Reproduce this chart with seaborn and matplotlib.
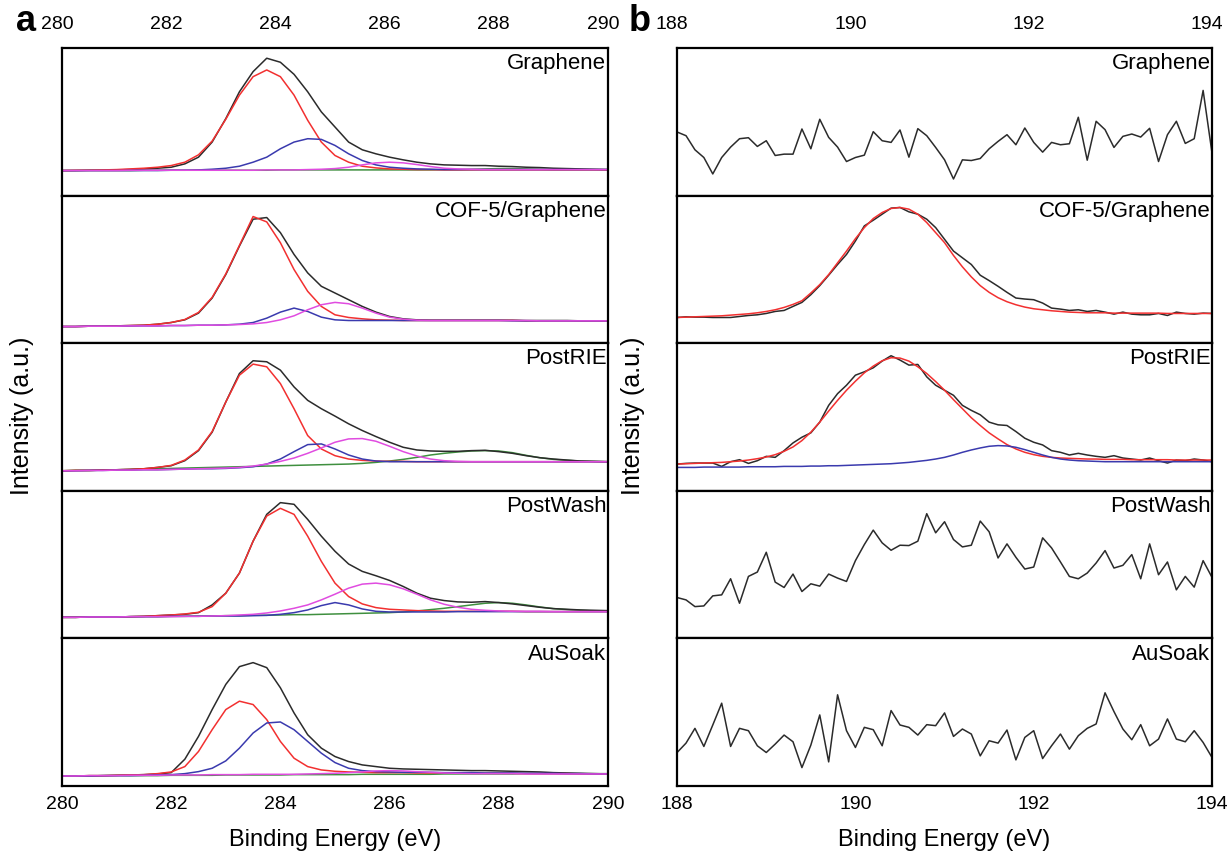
import numpy as np
import pandas as pd
import matplotlib
matplotlib.use("Agg")
import matplotlib.pyplot as plt
import matplotlib.transforms as mtransforms
import seaborn as sns

samples = ["Graphene", "COF-5/Graphene", "PostRIE", "PostWash", "AuSoak"]

# binding energy grids (eV)
c1s_ev = np.linspace(280, 290, 41)   # 0.25 eV steps
b1s_ev = np.linspace(188, 194, 61)   # 0.1 eV steps

# ---------------- panel a : C 1s (raw + fitted components) ----------------
gr_raw = [75, 75, 76, 76, 77, 78, 80, 82, 85, 95, 115, 160, 230, 310, 370, 410, 398, 362, 310, 250,
          205, 160, 137, 125, 115, 107, 100, 95, 92, 91, 90, 90, 88, 87, 85, 84, 82, 81, 80, 79, 78]
gr_red = [75, 76, 76, 77, 78, 80, 82, 85, 90, 100, 122, 163, 228, 300, 355, 375, 355, 300, 225, 160,
          120, 100, 88, 83, 80, 79, 78, 78, 77, 77, 77, 77, 77, 77, 77, 77, 77, 77, 77, 77, 77]
gr_blue = [75, 75, 75, 75, 75, 75, 75, 75, 76, 76, 77, 79, 82, 88, 100, 115, 140, 160, 170, 168,
           150, 125, 105, 92, 85, 82, 80, 79, 78, 78, 78, 78, 78, 78, 78, 78, 78, 78, 78, 78, 78]
gr_mag = [75, 75, 75, 75, 75, 76, 76, 76, 76, 76, 76, 76, 76, 76, 76, 77, 77, 77, 78, 79,
          81, 85, 92, 98, 100, 98, 93, 87, 82, 80, 79, 78, 78, 78, 78, 78, 78, 78, 78, 78, 78]
gr_green = [75, 75, 75, 75, 75, 75, 76, 76, 76, 76, 76, 76, 76, 76, 76, 76, 77, 77, 77, 77,
            77, 77, 77, 77, 77, 77, 77, 77, 78, 78, 79, 80, 81, 81, 80, 79, 78, 78, 78, 78, 78]

cof_raw = [50, 50, 51, 51, 52, 53, 54, 57, 62, 70, 90, 135, 205, 290, 370, 375, 330, 265, 210, 170,
           150, 130, 110, 93, 80, 73, 70, 69, 69, 69, 69, 69, 69, 69, 68, 68, 68, 68, 67, 67, 67]
cof_red = [50, 50, 51, 51, 52, 53, 54, 57, 62, 71, 92, 137, 207, 292, 378, 362, 300, 220, 155, 110,
           85, 77, 73, 70, 69, 68, 68, 68, 68, 68, 68, 68, 68, 68, 67, 67, 67, 67, 67, 67, 67]
cof_blue = [50, 50, 51, 51, 51, 52, 52, 52, 53, 53, 54, 54, 55, 57, 62, 75, 93, 105, 95, 78,
            70, 68, 68, 68, 68, 68, 68, 68, 68, 68, 68, 68, 68, 67, 67, 67, 67, 67, 67, 67, 67]
cof_mag = [50, 50, 51, 51, 51, 52, 52, 52, 53, 53, 54, 54, 55, 56, 58, 62, 70, 82, 100, 115,
           122, 118, 105, 90, 78, 72, 69, 68, 68, 68, 68, 68, 68, 68, 68, 67, 67, 67, 67, 67, 67]

rie_raw = [60, 61, 61, 62, 63, 64, 66, 70, 75, 90, 120, 175, 265, 350, 388, 385, 360, 310, 270, 245,
           223, 200, 180, 162, 145, 130, 122, 119, 118, 118, 120, 121, 117, 112, 105, 99, 95, 92, 89, 88, 87]
rie_red = [60, 61, 61, 62, 63, 64, 66, 70, 76, 92, 122, 177, 265, 345, 378, 370, 320, 245, 165, 125,
           105, 95, 91, 89, 88, 88, 87, 87, 87, 87, 87, 87, 87, 87, 87, 87, 87, 87, 87, 87, 87]
rie_blue = [60, 60, 61, 61, 62, 62, 63, 63, 64, 65, 66, 66, 67, 69, 72, 80, 95, 117, 138, 140,
            125, 107, 95, 89, 87, 87, 87, 87, 87, 87, 87, 87, 87, 87, 87, 87, 87, 87, 87, 87, 87]
rie_mag = [60, 60, 61, 61, 62, 62, 63, 63, 64, 65, 66, 67, 68, 70, 74, 80, 88, 98, 112, 128,
           145, 155, 156, 148, 133, 117, 104, 95, 90, 88, 87, 87, 87, 87, 87, 87, 87, 87, 87, 87, 87]
rie_green = [60, 61, 61, 62, 63, 64, 65, 66, 67, 68, 69, 70, 71, 72, 73, 74, 75, 76, 77, 78,
             79, 80, 82, 85, 89, 94, 100, 107, 112, 116, 119, 120, 119, 114, 106, 99, 94, 91, 89, 88, 87]

wash_raw = [63, 63, 64, 64, 64, 65, 66, 68, 70, 72, 77, 100, 135, 195, 290, 370, 405, 400, 355, 305,
            260, 222, 200, 187, 173, 155, 135, 120, 113, 109, 108, 110, 107, 103, 98, 93, 89, 87, 85, 84, 83]
wash_red = [63, 63, 64, 64, 64, 65, 66, 68, 70, 73, 78, 95, 135, 195, 290, 365, 388, 370, 305, 230,
            165, 125, 103, 92, 87, 85, 83, 82, 81, 81, 81, 81, 81, 81, 80, 80, 80, 80, 80, 80, 80]
wash_blue = [63, 63, 64, 64, 64, 65, 65, 65, 66, 66, 66, 67, 67, 67, 68, 69, 72, 77, 85, 98,
             107, 100, 88, 81, 79, 79, 79, 79, 79, 80, 80, 80, 80, 80, 80, 80, 80, 80, 80, 80, 80]
wash_mag = [63, 63, 64, 64, 64, 65, 65, 65, 65, 66, 66, 67, 68, 70, 72, 76, 82, 90, 100, 115,
            132, 150, 162, 165, 160, 148, 132, 115, 102, 93, 87, 84, 82, 81, 81, 81, 80, 80, 80, 80, 80]
wash_green = [63, 63, 64, 64, 64, 65, 65, 65, 66, 66, 67, 67, 68, 68, 69, 69, 70, 71, 71, 72,
              73, 74, 75, 76, 77, 79, 82, 86, 90, 95, 100, 105, 107, 105, 100, 94, 89, 86, 84, 82, 81]

au_raw = [30, 30, 31, 31, 32, 33, 34, 36, 40, 80, 148, 228, 303, 356, 368, 353, 293, 218, 153, 113,
          88, 73, 63, 58, 53, 51, 50, 49, 48, 47, 46, 46, 45, 44, 43, 42, 40, 39, 38, 37, 36]
au_red = [30, 30, 31, 31, 32, 33, 34, 37, 42, 58, 103, 168, 228, 253, 243, 198, 133, 83, 58, 48,
          44, 42, 41, 40, 40, 40, 39, 39, 39, 39, 38, 38, 38, 38, 37, 37, 37, 37, 36, 36, 36]
au_blue = [30, 30, 30, 31, 31, 31, 32, 33, 34, 37, 43, 53, 75, 113, 158, 188, 191, 168, 133, 98,
           70, 53, 46, 43, 42, 41, 41, 41, 40, 40, 40, 39, 39, 39, 38, 38, 38, 37, 37, 36, 36]
au_mag = [30, 30, 31, 31, 31, 32, 32, 32, 33, 33, 33, 34, 34, 34, 35, 35, 35, 35, 36, 37,
          38, 40, 42, 45, 46, 45, 43, 41, 39, 38, 37, 37, 37, 37, 36, 36, 36, 36, 36, 36, 36]
au_green = [30, 30, 30, 31, 31, 31, 31, 31, 32, 32, 32, 32, 33, 33, 33, 33, 33, 34, 34, 34,
            34, 34, 35, 35, 35, 35, 35, 35, 36, 36, 36, 36, 36, 36, 37, 37, 37, 37, 37, 37, 37]

# ---------------- panel b : B 1s ----------------
gr_b = [190, 179, 137, 114, 65, 114, 145, 170, 173, 147, 164, 120, 124, 124, 199, 140, 228, 174, 145, 102,
        114, 121, 191, 164, 159, 196, 115, 200, 179, 144, 107, 50, 107, 105, 111, 140, 162, 182, 152, 202,
        159, 130, 159, 152, 155, 234, 106, 222, 197, 144, 177, 184, 175, 201, 102, 182, 222, 156, 170, 314, 127]
cof_b = [77, 79, 78, 78, 77, 77, 77, 80, 83, 85, 89, 95, 98, 110, 122, 145, 172, 203, 235, 265,
         305, 350, 367, 385, 403, 405, 392, 385, 370, 345, 310, 275, 255, 235, 203, 187, 170, 152, 135, 132,
         130, 120, 105, 102, 98, 100, 95, 98, 93, 87, 93, 87, 85, 85, 89, 83, 93, 89, 87, 90, 89]
cof_b_fit = [77, 78, 79, 80, 81, 82, 84, 86, 88, 91, 95, 100, 107, 116, 127, 150, 175, 205, 240, 275,
             312, 345, 372, 390, 402, 405, 400, 385, 360, 330, 300, 262, 228, 198, 172, 152, 136, 124, 115, 108,
             103, 100, 97, 95, 93, 92, 91, 91, 91, 90, 90, 90, 90, 90, 90, 89, 89, 89, 89, 89, 89]
rie_b = [80, 82, 83, 83, 83, 73, 87, 93, 82, 90, 103, 100, 120, 143, 160, 173, 205, 255, 290, 315,
         345, 355, 367, 387, 403, 390, 375, 377, 340, 315, 300, 285, 255, 240, 227, 205, 197, 195, 177, 157,
         145, 137, 120, 115, 107, 112, 107, 103, 100, 105, 98, 95, 92, 98, 90, 83, 92, 90, 95, 92, 87]
rie_b_fit1 = [80, 81, 82, 83, 84, 85, 87, 89, 92, 96, 101, 108, 118, 131, 150, 175, 205, 238, 270, 300,
              327, 352, 372, 388, 397, 396, 387, 370, 350, 326, 300, 272, 245, 218, 195, 173, 155, 138, 125, 115,
              108, 103, 100, 98, 97, 96, 95, 95, 94, 94, 94, 93, 93, 93, 93, 93, 92, 92, 92, 92, 92]
rie_b_fit2 = [70, 70, 70, 71, 71, 71, 71, 71, 72, 72, 72, 72, 73, 73, 73, 74, 74, 75, 75, 76,
              77, 78, 79, 80, 81, 83, 85, 88, 91, 95, 100, 107, 115, 122, 128, 133, 135, 134, 130, 123,
              115, 107, 100, 95, 92, 90, 89, 88, 87, 87, 87, 87, 87, 87, 87, 87, 87, 87, 87, 87, 87]
wash_b = [122, 115, 95, 97, 127, 130, 178, 105, 185, 198, 257, 168, 152, 192, 140, 163, 156, 192, 180, 170,
          232, 280, 323, 285, 263, 278, 277, 290, 372, 315, 348, 295, 273, 278, 350, 318, 240, 282, 242, 207,
          213, 300, 270, 228, 185, 178, 195, 225, 262, 210, 218, 250, 178, 282, 190, 228, 145, 185, 153, 232, 182]
au_b = [100, 128, 172, 118, 182, 247, 118, 172, 165, 120, 100, 125, 152, 132, 55, 122, 212, 72, 272, 165,
        115, 175, 168, 120, 225, 182, 175, 152, 183, 180, 218, 148, 170, 155, 90, 135, 128, 167, 78, 145,
        165, 82, 120, 155, 110, 150, 172, 185, 278, 222, 170, 138, 183, 120, 140, 200, 140, 132, 165, 130, 85]

c1s_curves = [
    {"raw": gr_raw, "C1": gr_red, "C2": gr_blue, "C3": gr_mag, "C4": gr_green},
    {"raw": cof_raw, "C1": cof_red, "C2": cof_blue, "C3": cof_mag},
    {"raw": rie_raw, "C1": rie_red, "C2": rie_blue, "C3": rie_mag, "C4": rie_green},
    {"raw": wash_raw, "C1": wash_red, "C2": wash_blue, "C3": wash_mag, "C4": wash_green},
    {"raw": au_raw, "C1": au_red, "C2": au_blue, "C3": au_mag, "C4": au_green},
]
b1s_curves = [
    {"raw": gr_b},
    {"raw": cof_b, "C1": cof_b_fit},
    {"raw": rie_b, "C1": rie_b_fit1, "C2": rie_b_fit2},
    {"raw": wash_b},
    {"raw": au_b},
]

palette = {"C4": "#3f8f3f", "raw": "#2b2b2b", "C1": "#f23030", "C2": "#3a3aae", "C3": "#e04ce0"}
draw_order = ["C4", "raw", "C1", "C2", "C3"]

sns.set_style("white")
plt.rcParams["font.family"] = ["Liberation Sans", "DejaVu Sans"]
plt.rcParams["text.color"] = "black"
plt.rcParams["axes.labelcolor"] = "black"

fig, axes = plt.subplots(5, 2, figsize=(12.28, 8.6), dpi=100,
                         gridspec_kw=dict(width_ratios=[546, 535], hspace=0, wspace=0.128))
fig.subplots_adjust(left=0.0505, right=0.987, top=0.944, bottom=0.086)

# top tick labels sit slightly left of their ticks in the original
top_shift = mtransforms.ScaledTranslation(-5 / 100, 0, fig.dpi_scale_trans)


def long_table(energy, curves):
    frames = []
    for name in draw_order:
        if name in curves:
            frames.append(pd.DataFrame({"energy": energy, "intensity": curves[name], "comp": name}))
    return pd.concat(frames, ignore_index=True)


for col, (energy, curve_sets, xlim, ticks) in enumerate([
        (c1s_ev, c1s_curves, (280, 290), [280, 282, 284, 286, 288, 290]),
        (b1s_ev, b1s_curves, (188, 194), [188, 190, 192, 194])]):
    for row in range(5):
        ax = axes[row, col]
        df = long_table(energy, curve_sets[row])
        order = [c for c in draw_order if c in df["comp"].unique()]
        sns.lineplot(data=df, x="energy", y="intensity", hue="comp", hue_order=order,
                     palette=palette, estimator=None, sort=False, legend=False,
                     linewidth=1.1, ax=ax)
        ax.set_xlim(*xlim)
        ax.set_ylim(0, 440)
        ax.set_yticks([])
        ax.set_xticks(ticks)
        ax.set_xlabel("")
        ax.set_ylabel("")
        for sp in ax.spines.values():
            sp.set_color("black")
            sp.set_linewidth(1.6)
        ax.tick_params(axis="x", length=0, labelsize=14, colors="black",
                       top=False, bottom=False,
                       labeltop=(row == 0), labelbottom=(row == 4),
                       pad=11 if row == 0 else 7)
        if row == 0:
            for lab in ax.get_xticklabels():
                lab.set_transform(lab.get_transform() + top_shift)
        ax.text(0.997, 0.965, samples[row], transform=ax.transAxes, ha="right", va="top",
                fontsize=16, color="black")
    axes[4, col].set_xlabel("Binding Energy (eV)", fontsize=17, labelpad=12)

fig.text(0.018, 0.517, "Intensity (a.u.)", rotation=90, ha="center", va="center", fontsize=18)
fig.text(0.5155, 0.517, "Intensity (a.u.)", rotation=90, ha="center", va="center", fontsize=18)
fig.text(0.021, 0.975, "a", fontsize=26, fontweight="bold", ha="center", va="center")
fig.text(0.521, 0.975, "b", fontsize=26, fontweight="bold", ha="center", va="center")

fig.savefig("out.png", dpi=100)
